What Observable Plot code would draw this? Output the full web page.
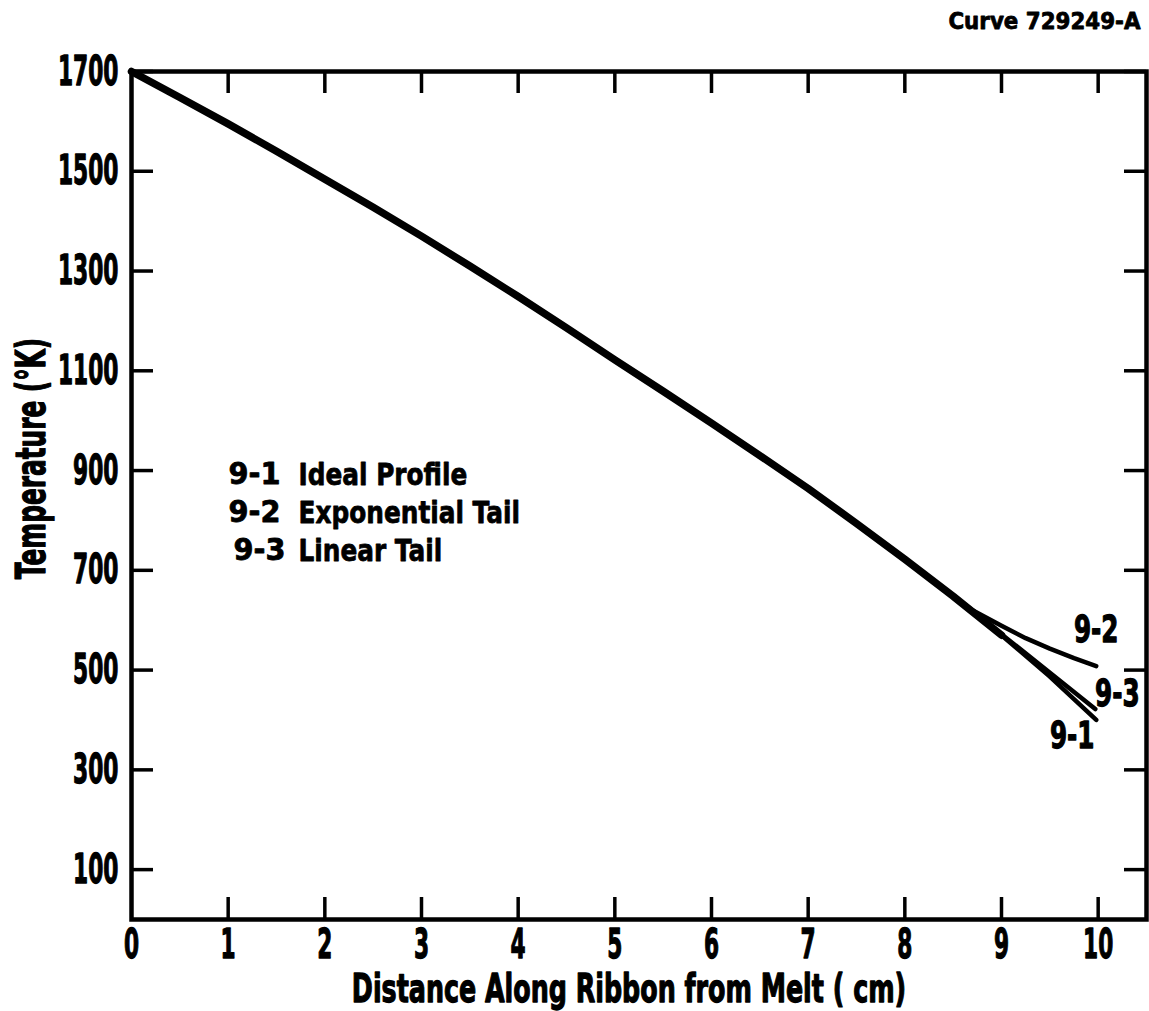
<!DOCTYPE html>
<html><head><meta charset="utf-8">
<script src="https://cdn.jsdelivr.net/npm/d3@7"></script>
<script src="https://cdn.jsdelivr.net/npm/@observablehq/plot@0.6"></script>
<style>body{margin:0;background:#fff} svg{display:block}</style>
</head><body><div id="chart"></div>
<script>
// ---- data ----
const xIdeal = [0,0.5,1,1.5,2,2.5,3,3.5,4,4.5,5,5.5,6,6.5,7,7.5,8,8.5,9,9.5,9.98];
const tIdeal = [1700,1648,1595,1540,1484,1428,1370,1310,1249,1186,1122,1059,995,930,864,794,722,648,570,487,400];
const xExp = [8.4,8.7,9.0,9.25,9.5,9.75,9.98];
const tExp = [663,620,589,564,543,524,508];
const xLin = [8.5,9.0,9.97];
const tLin = [648,572,422];
const xTickValues = [0,1,2,3,4,5,6,7,8,9,10];
const yTickValues = [100,300,500,700,900,1100,1300,1500,1700];
const legendCodes = ["9-1","9-2","9-3"];
const legendNames = ["Ideal Profile","Exponential Tail","Linear Tail"];
const xLabel = "Distance Along Ribbon from Melt ( cm)";
const yLabel = "Temperature (°K)";
const curveLabel = "Curve 729249-A";

const ideal = xIdeal.map((x,i)=>({x, t:tIdeal[i]}));
const expo = xExp.map((x,i)=>({x, t:tExp[i]}));
const lin = xLin.map((x,i)=>({x, t:tLin[i]}));

const W=1149,H=1011, ML=131, MR=3, MT=71, MB=92;
const FW=W-ML-MR, FH=H-MT-MB, TICK=22;
const FONT="DejaVu Sans";

const marks = [
  Plot.frame({strokeWidth:4.5}),
  Plot.ruleX(xTickValues.slice(1), {x:d=>d, insetTop:FH-TICK, strokeWidth:3.5}),
  Plot.ruleX(xTickValues.slice(1), {x:d=>d, insetBottom:FH-TICK, strokeWidth:3.5}),
  Plot.ruleY(yTickValues, {y:d=>d, insetRight:FW-TICK, strokeWidth:3.5}),
  Plot.ruleY(yTickValues, {y:d=>d, insetLeft:FW-TICK, strokeWidth:3.5}),
  Plot.line(expo, {x:"x", y:"t", strokeWidth:4.5, strokeLinecap:"round"}),
  Plot.line(lin, {x:"x", y:"t", strokeWidth:4.5, strokeLinecap:"round"}),
  Plot.line(ideal, {filter:d=>d.x<=9, x:"x", y:"t", strokeWidth:7.5, strokeLinecap:"round"}),
  Plot.line(ideal, {filter:d=>d.x>=8.9, x:"x", y:"t", strokeWidth:4.5, strokeLinecap:"round"}),
  Plot.text(yTickValues, {y:d=>d, text:d=>String(d), frameAnchor:"left", textAnchor:"end", dx:-13, fontSize:41}),
  Plot.text(xTickValues, {x:d=>d, text:d=>String(d), frameAnchor:"bottom", textAnchor:"middle", lineAnchor:"top", dy:9, fontSize:41}),
  Plot.text([xLabel], {text:d=>d, frameAnchor:"bottom", textAnchor:"middle", lineAnchor:"top", dx:-10, dy:55, fontSize:39}),
  Plot.text([yLabel], {text:d=>d, frameAnchor:"left", textAnchor:"middle", lineAnchor:"middle", rotate:-90, dx:-99, dy:-37, fontSize:40}),
  Plot.text([curveLabel], {text:d=>d, frameAnchor:"top-right", textAnchor:"end", lineAnchor:"top", dx:-6, dy:-59, fontSize:23}),
  Plot.text([expo[expo.length-1]], {x:"x", y:"t", text:()=>legendCodes[1], dy:-36, fontSize:38}),
  Plot.text([lin[lin.length-1]], {x:"x", y:"t", text:()=>legendCodes[2], dx:22, dy:-15, fontSize:38}),
  Plot.text([ideal[ideal.length-1]], {x:"x", y:"t", text:()=>legendCodes[0], dx:-24, dy:16, fontSize:38}),
];
legendCodes.forEach((c,i)=>{
  marks.push(Plot.text([c], {text:d=>d, frameAnchor:"top-left", textAnchor:"start", dx: i===2?102:97, dy:391+i*38, fontSize:30}));
  marks.push(Plot.text([legendNames[i]], {text:d=>d, frameAnchor:"top-left", textAnchor:"start", dx:167, dy:391+i*38, fontSize:31}));
});

const chart = Plot.plot({
  width:W, height:H, marginLeft:ML, marginRight:MR, marginTop:MT, marginBottom:MB,
  x:{domain:[0,10.5], axis:null},
  y:{domain:[0,1700], axis:null},
  style:{fontFamily:FONT, fontWeight:"bold", background:"white", color:"black"},
  marks
});
document.getElementById("chart").append(chart);

// horizontal condensing and heavier lettering, keyed by font size
const factors = {41:0.53, 39:0.65, 40:0.62, 23:0.93, 38:0.65, 30:0.96, 31:0.80};
chart.querySelectorAll("text").forEach(t=>{
  const fs = Math.round(parseFloat(getComputedStyle(t).fontSize));
  const k = factors[fs];
  if (!k) return;
  const L = t.getComputedTextLength();
  t.setAttribute("textLength", (L*k).toFixed(1));
  t.setAttribute("lengthAdjust","spacingAndGlyphs");
  t.setAttribute("stroke","black");
  t.setAttribute("stroke-width", fs >= 38 ? "1.3" : "0.8");
  t.setAttribute("stroke-linejoin","round");
});
</script></body></html>
